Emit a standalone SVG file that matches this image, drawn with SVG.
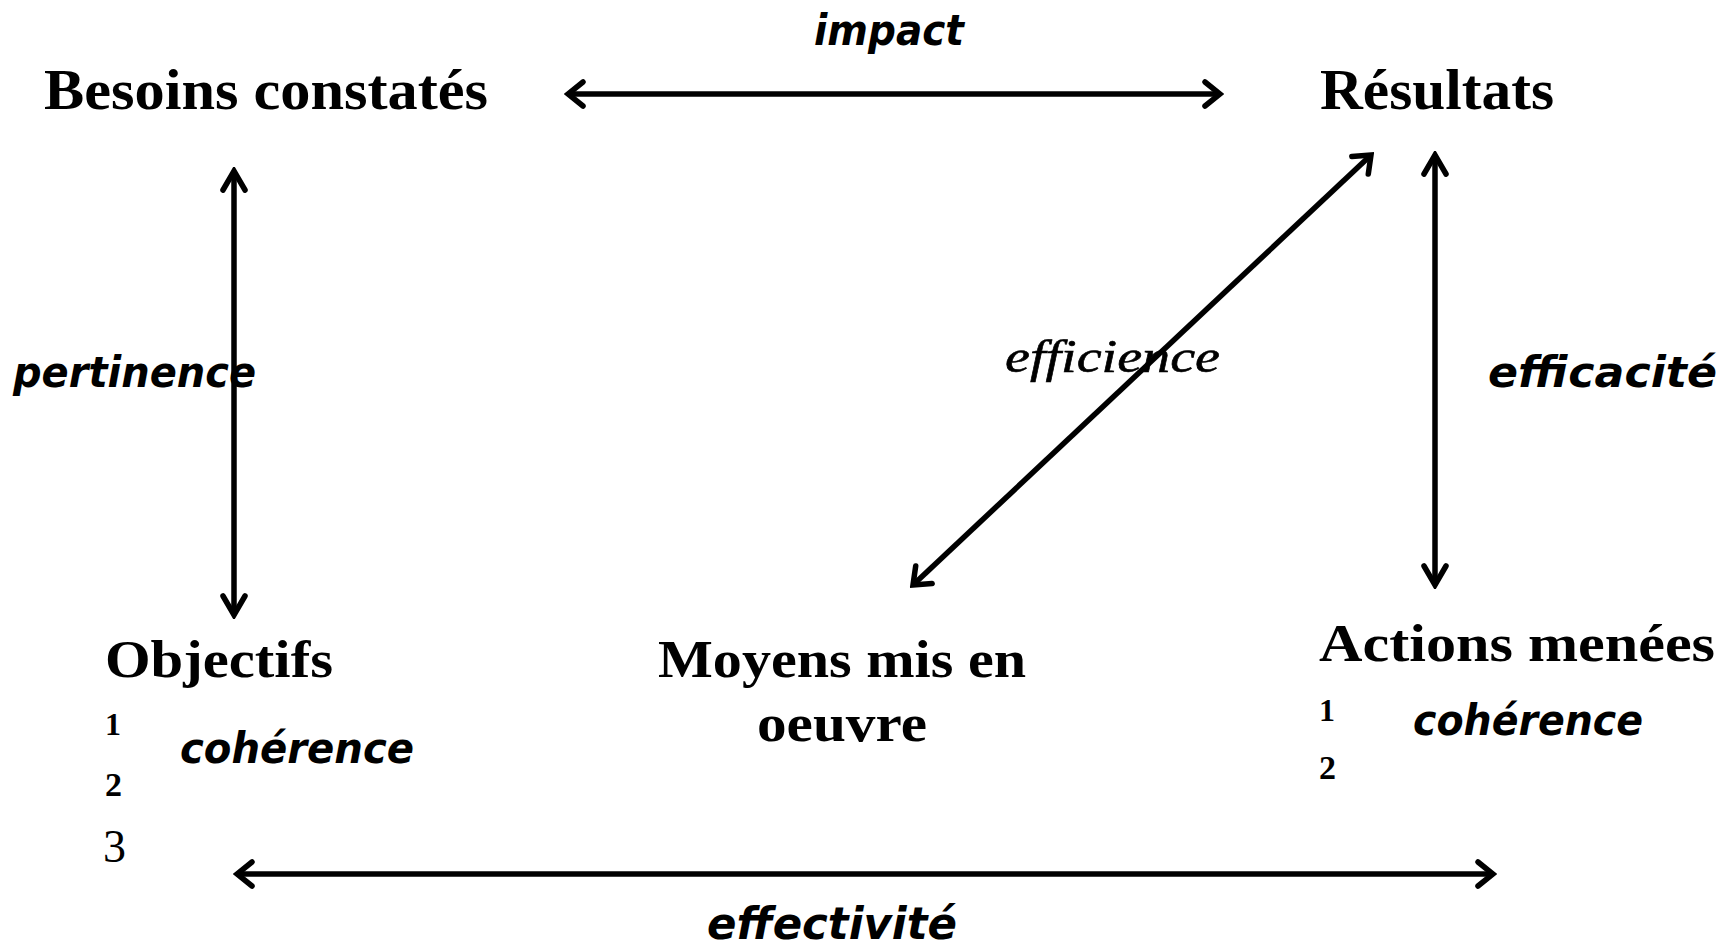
<svg xmlns="http://www.w3.org/2000/svg" width="1731" height="948" viewBox="0 0 1731 948">
<style>
.node{font-family:"Liberation Serif","DejaVu Serif",serif;font-weight:bold;fill:#000}
.num{font-family:"Liberation Serif","DejaVu Serif",serif;fill:#000}
.lbl{font-family:"DejaVu Sans","Liberation Sans",sans-serif;font-weight:bold;font-style:italic;fill:#000}
.eff{font-family:"Liberation Serif",serif;font-style:italic;fill:#000;stroke:#000;stroke-width:0.6}
.conn{stroke:#000;stroke-width:5.5;fill:none}
</style>
<defs>
<marker id="ah" viewBox="-20 -16 24 32" markerWidth="24" markerHeight="32" refX="0" refY="0" orient="auto-start-reverse" markerUnits="userSpaceOnUse">
<path d="M-15,-12 L0,0 L-15,12" fill="none" stroke="#000" stroke-width="5.5" stroke-linecap="round" stroke-linejoin="miter"/>
</marker>
<marker id="ah2" viewBox="-24 -16 28 32" markerWidth="28" markerHeight="32" refX="0" refY="0" orient="auto-start-reverse" markerUnits="userSpaceOnUse">
<path d="M-19,-11 L0,0 L-19,11" fill="none" stroke="#000" stroke-width="5.5" stroke-linecap="round" stroke-linejoin="miter"/>
</marker>
</defs>
<rect width="1731" height="948" fill="#fff"/>
<g id="connectors">
<line class="conn" x1="568" y1="94" x2="1220" y2="94" marker-start="url(#ah)" marker-end="url(#ah)"/>
<line class="conn" x1="234" y1="171" x2="234" y2="615" marker-start="url(#ah2)" marker-end="url(#ah2)"/>
<line class="conn" x1="1371" y1="155" x2="913" y2="585" marker-start="url(#ah)" marker-end="url(#ah)"/>
<line class="conn" x1="1435" y1="155" x2="1435" y2="585" marker-start="url(#ah2)" marker-end="url(#ah2)"/>
<line class="conn" x1="237" y1="874" x2="1493" y2="874" marker-start="url(#ah)" marker-end="url(#ah)"/>
</g>
<g id="labels">
<text class="lbl" x="889" y="45" font-size="42" text-anchor="middle" textLength="150" lengthAdjust="spacingAndGlyphs">impact</text>
<text class="lbl" x="13" y="387" font-size="42" textLength="243" lengthAdjust="spacingAndGlyphs">pertinence</text>
<text class="eff" x="1005" y="372" font-size="47" textLength="215" lengthAdjust="spacingAndGlyphs">efficience</text>
<text class="lbl" x="1488" y="387" font-size="42" textLength="229" lengthAdjust="spacingAndGlyphs">efficacité</text>
<text class="lbl" x="707" y="939" font-size="44" textLength="250" lengthAdjust="spacingAndGlyphs">effectivité</text>
</g>
<g id="node-besoins"><text class="node" x="44" y="109" font-size="56" textLength="444" lengthAdjust="spacingAndGlyphs">Besoins constatés</text></g>
<g id="node-resultats"><text class="node" x="1320" y="109" font-size="56" textLength="234" lengthAdjust="spacingAndGlyphs">Résultats</text></g>
<g id="node-objectifs">
<text class="node" x="105" y="677" font-size="52" textLength="228" lengthAdjust="spacingAndGlyphs">Objectifs</text>
<text class="num" x="105" y="735" font-size="32" font-weight="bold">1</text>
<text class="lbl" x="180" y="763" font-size="42" textLength="234" lengthAdjust="spacingAndGlyphs">cohérence</text>
<text class="num" x="105" y="796" font-size="34" font-weight="bold">2</text>
<text class="num" x="103" y="862" font-size="46">3</text>
</g>
<g id="node-moyens">
<text class="node" x="842" y="677" font-size="52" text-anchor="middle" textLength="368" lengthAdjust="spacingAndGlyphs">Moyens mis en</text>
<text class="node" x="842" y="741" font-size="52" text-anchor="middle" textLength="170" lengthAdjust="spacingAndGlyphs">oeuvre</text>
</g>
<g id="node-actions">
<text class="node" x="1319" y="661" font-size="52" textLength="396" lengthAdjust="spacingAndGlyphs">Actions menées</text>
<text class="num" x="1319" y="721" font-size="32" font-weight="bold">1</text>
<text class="lbl" x="1413" y="735" font-size="42" textLength="230" lengthAdjust="spacingAndGlyphs">cohérence</text>
<text class="num" x="1319" y="779" font-size="34" font-weight="bold">2</text>
</g>
</svg>
